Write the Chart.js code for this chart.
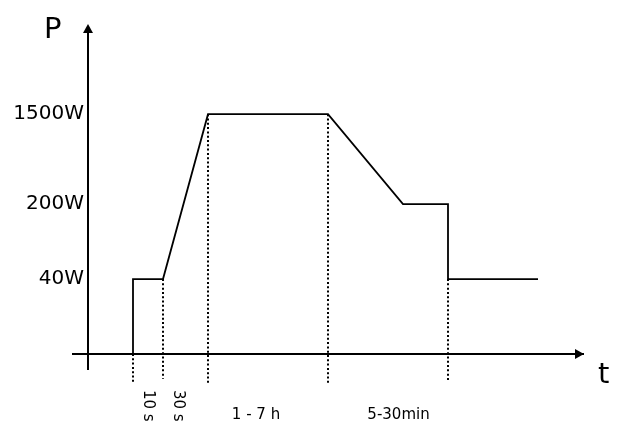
<!DOCTYPE html>
<html>
<head>
<meta charset="utf-8">
<script src="https://cdn.jsdelivr.net/npm/chart.js@4.4.1/dist/chart.umd.min.js"></script>
<style>
html, body { margin: 0; padding: 0; background: #fff; }
#wrap { width: 625px; height: 437px; }
</style>
</head>
<body>
<div id="wrap"><canvas id="chartPower" width="625" height="437"></canvas></div>
<script>
// power profile: time steps (schematic units) and power level
const timeSteps = [0, 3, 3, 5, 8, 16, 21, 24, 24, 30];
const powerLevels = [0, 0, 1, 1, 3.2, 3.2, 2, 2, 1, 1];

// y tick labels
const levelTicks = [1, 2, 3.2];
const levelLabels = ["40W", "200W", "1500W"];

// dotted phase markers
const markerTimes = [3, 5, 8, 16, 24];
const markerTops = [0, 1, 3.2, 3.2, 1];
const markerEnds = [-0.39, -0.33, -0.39, -0.39, -0.35];

// phase labels under the t axis
const phaseLabels = ["10 s", "30 s", "1 - 7 h", "5-30min"];
const phaseTimes = [4, 6, 11.2, 20.7];
const phaseVertical = [true, true, false, false];

Chart.defaults.font.family = "'DejaVu Sans', sans-serif";
Chart.defaults.color = "#000";

var markerData = [];
markerTimes.forEach(function (t, i) {
    markerData.push({ x: t, y: markerTops[i] }, { x: t, y: markerEnds[i] }, { x: t, y: null });
});

const decor = {
    id: "decor",
    afterDraw(chart) {
        const { ctx, chartArea } = chart;
        const x = chart.scales.x, y = chart.scales.y;
        const x0 = x.getPixelForValue(0);
        const y0 = y.getPixelForValue(0);
        ctx.save();
        ctx.fillStyle = "#000";
        // arrow heads
        ctx.beginPath();
        ctx.moveTo(x0, chartArea.top - 4);
        ctx.lineTo(x0 - 5, chartArea.top + 5);
        ctx.lineTo(x0 + 5, chartArea.top + 5);
        ctx.closePath();
        ctx.fill();
        ctx.beginPath();
        ctx.moveTo(chartArea.right + 1, y0);
        ctx.lineTo(chartArea.right - 8, y0 - 5);
        ctx.lineTo(chartArea.right - 8, y0 + 5);
        ctx.closePath();
        ctx.fill();
        // axis names
        ctx.font = "29px 'DejaVu Sans'";
        ctx.textBaseline = "alphabetic";
        ctx.textAlign = "left";
        ctx.fillText("P", x0 - 44, chartArea.top + 10);
        ctx.fillText("t", chartArea.right + 15, y0 + 29);
        // phase labels
        ctx.font = "15px 'DejaVu Sans'";
        phaseLabels.forEach(function (lab, i) {
            const px = x.getPixelForValue(phaseTimes[i]);
            if (phaseVertical[i]) {
                ctx.save();
                ctx.translate(px, y.getPixelForValue(-0.48));
                ctx.rotate(Math.PI / 2);
                ctx.textAlign = "left";
                ctx.textBaseline = "middle";
                ctx.fillText(lab, 0, 0);
                ctx.restore();
            } else {
                ctx.textAlign = "center";
                ctx.textBaseline = "alphabetic";
                ctx.fillText(lab, px, y.getPixelForValue(-0.87));
            }
        });
        ctx.restore();
    },
};

var ctx = document.getElementById("chartPower").getContext("2d");

const chartPower = new Chart(ctx, {
    type: "line",
    data: {
    datasets: [
        {
        label: "P",
        data: timeSteps.map(function (t, i) { return { x: t, y: powerLevels[i] }; }),
        borderColor: "#000",
        borderWidth: 1.8,
        pointRadius: 0,
        tension: 0,
        fill: false,
        order: 1,
        },
        {
        label: "markers",
        data: markerData,
        borderColor: "#000",
        borderWidth: 2,
        borderDash: [2, 2.3],
        pointRadius: 0,
        spanGaps: false,
        clip: false,
        fill: false,
        order: 2,
        },
    ],
    },
    options: {
    responsive: false,
    animation: false,
    layout: {
        padding: { left: 73, right: 42, top: 28, bottom: 68 },
    },
    plugins: {
        legend: { display: false },
        tooltip: { enabled: false },
    },
    scales: {
        x: {
        type: "linear",
        min: -1,
        max: 33,
        position: { y: 0 },
        grid: { display: false },
        border: { color: "#000", width: 2 },
        ticks: { display: false },
        afterFit: function (s) { s.height = 0; },
        },
        y: {
        type: "linear",
        min: -0.2,
        max: 4.35,
        position: { x: 0 },
        grid: { display: false },
        border: { color: "#000", width: 2 },
        afterBuildTicks: function (s) {
            s.ticks = levelTicks.map(function (v) { return { value: v }; });
        },
        ticks: {
            font: { size: 20 },
            color: "#000",
            // thin space keeps the label off the axis line
            callback: function (v) {
                return levelLabels[levelTicks.indexOf(v)] + "\u2009";
            },
        },
        afterFit: function (s) { s.width = 0; },
        },
    },
    },
    plugins: [decor],
});
</script>
</body>
</html>
